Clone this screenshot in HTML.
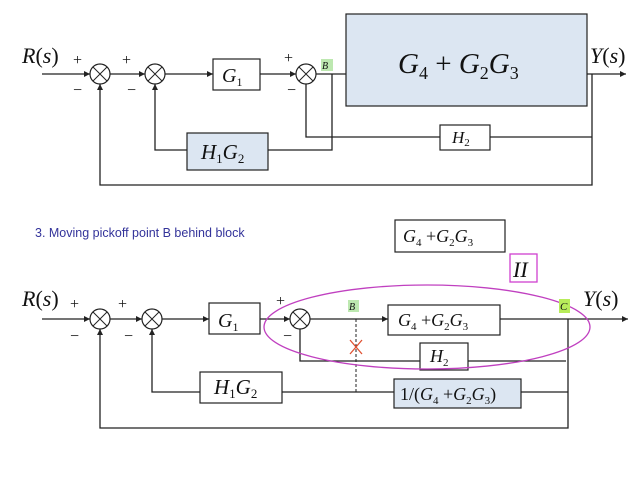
<!DOCTYPE html>
<html><head><style>
html,body{margin:0;padding:0;background:#fff;}
svg{display:block;}
.m{font-family:"Liberation Serif",serif;font-style:italic;}
.s{font-family:"Liberation Serif",serif;font-style:normal;}
</style></head><body>
<svg width="638" height="479" viewBox="0 0 638 479" xmlns="http://www.w3.org/2000/svg">
<defs>
<marker id="a" markerWidth="6" markerHeight="6" refX="6" refY="3" orient="auto" markerUnits="userSpaceOnUse"><path d="M0,0 L6,3 L0,6 z" fill="#222"/></marker>
</defs>
<g stroke="#222" stroke-width="1.3" fill="none">
<line x1="42" y1="74" x2="90" y2="74" marker-end="url(#a)"/>
<line x1="110" y1="74" x2="145" y2="74" marker-end="url(#a)"/>
<line x1="165" y1="74" x2="213" y2="74" marker-end="url(#a)"/>
<line x1="260" y1="74" x2="296" y2="74" marker-end="url(#a)"/>
<line x1="316" y1="74" x2="346" y2="74"/>
<line x1="587" y1="74" x2="626" y2="74" marker-end="url(#a)"/>
<polyline points="306,84 306,137 440,137"/>
<polyline points="490,137 592,137"/>
<polyline points="592,74 592,185 100,185 100,84" marker-end="url(#a)"/>
<polyline points="332,74 332,150 268,150"/>
<polyline points="187,150 155,150 155,84" marker-end="url(#a)"/>
<line x1="42" y1="319" x2="90" y2="319" marker-end="url(#a)"/>
<line x1="110" y1="319" x2="142" y2="319" marker-end="url(#a)"/>
<line x1="162" y1="319" x2="209" y2="319" marker-end="url(#a)"/>
<line x1="260" y1="319" x2="290" y2="319" marker-end="url(#a)"/>
<line x1="310" y1="319" x2="388" y2="319" marker-end="url(#a)"/>
<line x1="500" y1="319" x2="628" y2="319" marker-end="url(#a)"/>
<polyline points="300,329 300,361 420,361"/>
<line x1="468" y1="361" x2="566" y2="361"/>
<polyline points="568,319 568,428 100,428 100,329" marker-end="url(#a)"/>
<line x1="568" y1="392" x2="521" y2="392"/>
<line x1="394" y1="392" x2="282" y2="392"/>
<polyline points="200,392 152,392 152,329" marker-end="url(#a)"/>
</g>
<line x1="356" y1="319" x2="356" y2="392" stroke="#222" stroke-width="1" stroke-dasharray="3,2"/>
<g stroke="#e05030" stroke-width="1.3"><line x1="350" y1="340" x2="362" y2="354"/><line x1="362" y1="340" x2="350" y2="354"/></g>
<g stroke="#222" stroke-width="1.2" fill="#fff">
<circle cx="100" cy="74" r="10"/><circle cx="155" cy="74" r="10"/><circle cx="306" cy="74" r="10"/>
<circle cx="100" cy="319" r="10"/><circle cx="152" cy="319" r="10"/><circle cx="300" cy="319" r="10"/>
</g>
<g stroke="#222" stroke-width="1">
<path d="M93,67 L107,81 M107,67 L93,81"/><path d="M148,67 L162,81 M162,67 L148,81"/><path d="M299,67 L313,81 M313,67 L299,81"/>
<path d="M93,312 L107,326 M107,312 L93,326"/><path d="M145,312 L159,326 M159,312 L145,326"/><path d="M293,312 L307,326 M307,312 L293,326"/>
</g>
<g stroke="#222" stroke-width="1.2">
<rect x="213" y="59" width="47" height="31" fill="#fff"/>
<rect x="346" y="14" width="241" height="92" fill="#dce6f2"/>
<rect x="440" y="125" width="50" height="25" fill="#fff"/>
<rect x="187" y="133" width="81" height="37" fill="#dce6f2"/>
<rect x="395" y="220" width="110" height="32" fill="#fff"/>
<rect x="209" y="303" width="51" height="31" fill="#fff"/>
<rect x="388" y="305" width="112" height="30" fill="#fff"/>
<rect x="420" y="343" width="48" height="27" fill="#fff"/>
<rect x="200" y="372" width="82" height="31" fill="#fff"/>
<rect x="394" y="379" width="127" height="29" fill="#dce6f2"/>
</g>
<rect x="510" y="254" width="27" height="28" fill="none" stroke="#d040d0" stroke-width="1.3"/>
<ellipse cx="427" cy="327" rx="163" ry="42" fill="none" stroke="#c040c0" stroke-width="1.3"/>
<rect x="321" y="59" width="12" height="12" fill="#bde8b0"/>
<rect x="348" y="300" width="11" height="12" fill="#bde8b0"/>
<rect x="559" y="299" width="11" height="14" fill="#b8ec5a"/>
<g fill="#111">
<text x="22" y="63" class="m" font-size="22">R<tspan class="s">(</tspan>s<tspan class="s">)</tspan></text>
<text x="590" y="63" class="m" font-size="22">Y<tspan class="s">(</tspan>s<tspan class="s">)</tspan></text>
<text x="22" y="306" class="m" font-size="22">R<tspan class="s">(</tspan>s<tspan class="s">)</tspan></text>
<text x="583" y="306" class="m" font-size="22">Y<tspan class="s">(</tspan>s<tspan class="s">)</tspan></text>
<g class="s" font-size="16">
<text x="73" y="65">+</text><text x="122" y="65">+</text><text x="284" y="63">+</text>
<text x="73" y="95">−</text><text x="127" y="95">−</text><text x="287" y="95">−</text>
<text x="70" y="309">+</text><text x="118" y="309">+</text><text x="276" y="306">+</text>
<text x="70" y="341">−</text><text x="124" y="341">−</text><text x="283" y="341">−</text>
</g>
<text x="322" y="69" class="m" font-size="10">B</text>
<text x="349" y="310" class="m" font-size="10">B</text>
<text x="560" y="310" class="m" font-size="11">C</text>
<text x="222" y="82" class="m" font-size="20">G<tspan class="s" font-size="12" dy="4">1</tspan></text>
<text x="398" y="73" class="m" font-size="29">G<tspan class="s" font-size="18" dy="6">4</tspan><tspan class="s" dy="-6"> + </tspan>G<tspan class="s" font-size="18" dy="6">2</tspan><tspan dy="-6">G</tspan><tspan class="s" font-size="18" dy="6">3</tspan></text>
<text x="452" y="143" class="m" font-size="17">H<tspan class="s" font-size="11" dy="3">2</tspan></text>
<text x="201" y="159" class="m" font-size="21">H<tspan class="s" font-size="13" dy="4">1</tspan><tspan dy="-4">G</tspan><tspan class="s" font-size="13" dy="4">2</tspan></text>
<text x="35" y="237" font-family="Liberation Sans,sans-serif" font-size="12.5" fill="#33339a">3. Moving pickoff point B behind block</text>
<text x="403" y="242" class="m" font-size="18">G<tspan class="s" font-size="11" dy="4">4</tspan><tspan class="s" dy="-4"> +</tspan>G<tspan class="s" font-size="11" dy="4">2</tspan><tspan dy="-4">G</tspan><tspan class="s" font-size="11" dy="4">3</tspan></text>
<text x="513" y="277" class="m" font-size="22">II</text>
<text x="218" y="327" class="m" font-size="20">G<tspan class="s" font-size="12" dy="4">1</tspan></text>
<text x="398" y="326" class="m" font-size="18">G<tspan class="s" font-size="11" dy="4">4</tspan><tspan class="s" dy="-4"> +</tspan>G<tspan class="s" font-size="11" dy="4">2</tspan><tspan dy="-4">G</tspan><tspan class="s" font-size="11" dy="4">3</tspan></text>
<text x="430" y="362" class="m" font-size="18">H<tspan class="s" font-size="11" dy="4">2</tspan></text>
<text x="214" y="394" class="m" font-size="21">H<tspan class="s" font-size="13" dy="4">1</tspan><tspan dy="-4">G</tspan><tspan class="s" font-size="13" dy="4">2</tspan></text>
<text x="400" y="400" class="m" font-size="18"><tspan class="s">1/(</tspan>G<tspan class="s" font-size="11" dy="4">4</tspan><tspan class="s" dy="-4"> +</tspan>G<tspan class="s" font-size="11" dy="4">2</tspan><tspan dy="-4">G</tspan><tspan class="s" font-size="11" dy="4">3</tspan><tspan class="s" dy="-4">)</tspan></text>
</g>
</svg>
</body></html>
